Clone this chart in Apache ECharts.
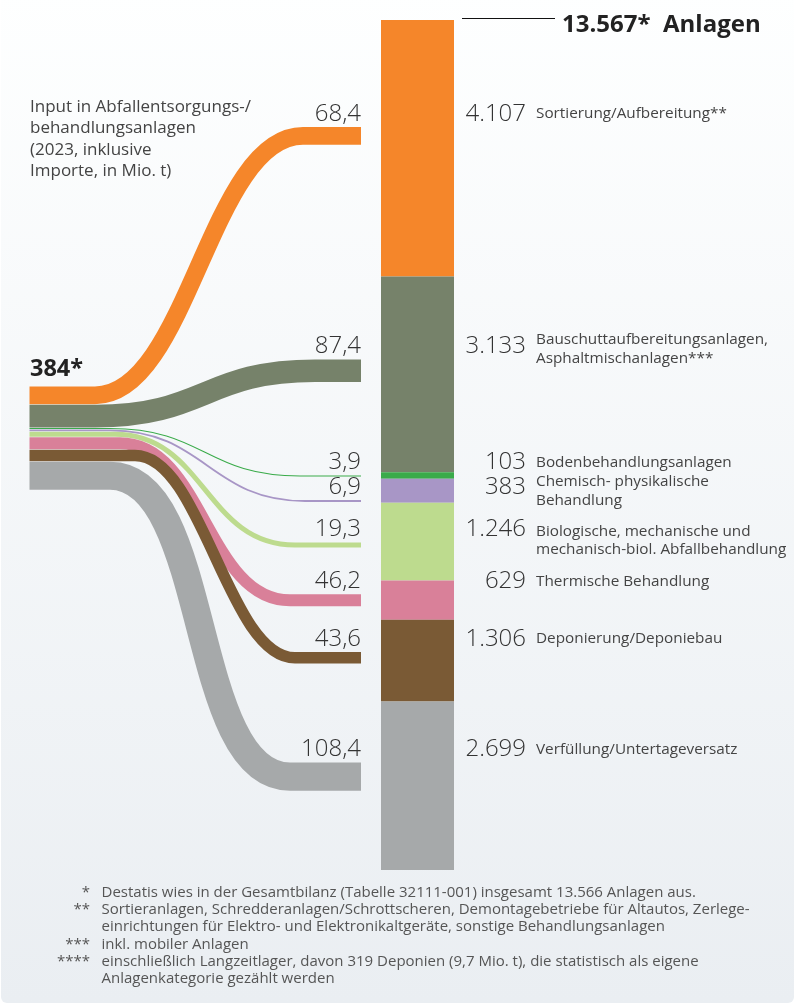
<!DOCTYPE html>
<html>
<head>
<meta charset="utf-8">
<script src="https://cdn.jsdelivr.net/npm/echarts@6/dist/echarts.min.js"></script>
<style>
  html, body { margin: 0; padding: 0; background: #fff; }
  #main { width: 795px; height: 1005px; }
</style>
</head>
<body>
<div id="main"></div>
<script>
// Daten
var categories = [
  "Sortierung/Aufbereitung**",
  "Bauschuttaufbereitungsanlagen,\nAsphaltmischanlagen***",
  "Bodenbehandlungsanlagen",
  "Chemisch- physikalische\nBehandlung",
  "Biologische, mechanische und\nmechanisch-biol. Abfallbehandlung",
  "Thermische Behandlung",
  "Deponierung/Deponiebau",
  "Verfüllung/Untertageversatz"
];
var inputMioT = [68.4, 87.4, 3.9, 6.9, 19.3, 46.2, 43.6, 108.4];
var inputLabels = ["68,4", "87,4", "3,9", "6,9", "19,3", "46,2", "43,6", "108,4"];
var plantCounts = [4107, 3133, 103, 383, 1246, 629, 1306, 2699];
var plantLabels = ["4.107", "3.133", "103", "383", "1.246", "629", "1.306", "2.699"];
var totalInputLabel = "384*";
var totalPlantsLabel = "13.567*";

// Layout / Stil
var colors = ["#f5862a", "#76826a", "#3aab4a", "#a896c6", "#bddb8e", "#d98099", "#7a5a35", "#a6a9aa"];
var TON_PX = 0.26;          // px je Mio. t
var GAP = 0.5;
var LEFT_X = 29.5, LEFT_TOP = 386.5, FLOW_END_X = 361;
var BAR_X0 = 381, BAR_X1 = 454, NUM_X = 526, CAT_X = 536;
// Kurvenform je Strom: [Start Kurve, Ende Kurve, Kontrollabstand]
var curve = [[95, 303, 93], [95, 315, 110], [110, 300, 95], [110, 305, 95],
             [115, 295, 90], [120, 290, 83], [135, 295, 67], [110, 290, 102]];
var endShift = [-12.4, -3.7, 0.5, 10.3, 3.4, 0.2, -2.8, -9];
var catShift = [0, 3, 0, 4, 11, 0, 0, 0];
var FONT = "Open Sans";

var totalPlants = plantCounts.reduce(function(a, b) { return a + b; }, 0);
var plantCum = [], leftCum = [];
(function() {
  var a = 0, b = 0;
  for (var i = 0; i < plantCounts.length; i++) {
    plantCum.push(a); a += plantCounts[i];
    leftCum.push(b); b += inputMioT[i];
  }
})();

var myChart = echarts.init(document.getElementById("main"));

function flowEnd(i, api) {
  var t = inputMioT[i] * TON_PX;
  var yc = api.coord([0, plantCum[i] + plantCounts[i] / 2])[1] + endShift[i];
  return { y: yc, top: yc - Math.max(t, 1) / 2, t: t };
}

function renderFlow(params, api) {
  var i = params.dataIndex;
  var t = inputMioT[i] * TON_PX;
  var yL = LEFT_TOP + leftCum[i] * TON_PX + i * GAP + t / 2;
  var end = flowEnd(i, api);
  var yR = end.y;
  var x0 = api.coord([LEFT_X, 0])[0];
  var xa = api.coord([curve[i][0], 0])[0];
  var xb = api.coord([curve[i][1], 0])[0];
  var k = curve[i][2];
  var x1 = api.coord([FLOW_END_X, 0])[0];
  var d = "M" + x0 + " " + yL + " L" + xa + " " + yL +
          " C" + (xa + k) + " " + yL + " " + (xb - k) + " " + yR + " " + xb + " " + yR +
          " L" + x1 + " " + yR;
  return {
    type: "group",
    children: [
      {
        type: "path",
        shape: { pathData: d },
        style: { fill: null, stroke: colors[i], lineWidth: Math.max(t, 1), lineCap: "butt" }
      },
      {
        type: "text",
        x: x1, y: end.top - 13,
        style: {
          text: inputLabels[i], align: "right", verticalAlign: "middle",
          fontFamily: FONT, fontSize: 24, fontWeight: 300, fill: "#333"
        }
      }
    ]
  };
}

function renderBar(params, api) {
  var i = params.dataIndex;
  var p0 = api.coord([BAR_X0, plantCum[i]]);
  var p1 = api.coord([BAR_X1, plantCum[i] + plantCounts[i]]);
  var ly = flowEnd(i, api).top - 13;
  return {
    type: "group",
    children: [
      {
        type: "rect",
        shape: { x: p0[0], y: p0[1], width: p1[0] - p0[0], height: p1[1] - p0[1] },
        style: { fill: colors[i] }
      },
      {
        type: "text",
        x: NUM_X, y: ly,
        style: {
          text: plantLabels[i], align: "right", verticalAlign: "middle",
          fontFamily: FONT, fontSize: 24, fontWeight: 300, fill: "#333"
        }
      },
      {
        type: "text",
        x: CAT_X, y: ly + catShift[i],
        style: {
          text: categories[i], align: "left", verticalAlign: "middle",
          fontFamily: FONT, fontSize: 15.3, lineHeight: 18.5, fill: "#444"
        }
      }
    ]
  };
}

var footnotes = [
  ["*", "Destatis wies in der Gesamtbilanz (Tabelle 32111-001) insgesamt 13.566 Anlagen aus."],
  ["**", "Sortieranlagen, Schredderanlagen/Schrottscheren, Demontagebetriebe für Altautos, Zerlege-"],
  ["", "einrichtungen für Elektro- und Elektronikaltgeräte, sonstige Behandlungsanlagen"],
  ["***", "inkl. mobiler Anlagen"],
  ["****", "einschließlich Langzeitlager, davon 319 Deponien (9,7 Mio. t), die statistisch als eigene"],
  ["", "Anlagenkategorie gezählt werden"]
];
var noteEls = [];
footnotes.forEach(function(f, i) {
  var y = 892.5 + i * 17.3;
  noteEls.push({ type: "text", x: 90, y: y, style: { text: f[0], align: "right", verticalAlign: "middle", fontFamily: FONT, fontSize: 15, fill: "#555" } });
  noteEls.push({ type: "text", x: 101.5, y: y, style: { text: f[1], align: "left", verticalAlign: "middle", fontFamily: FONT, fontSize: 15, fill: "#555" } });
});

var option = {
  backgroundColor: "#ffffff",
  animation: false,
  grid: { left: 0, right: 0, top: 20, bottom: 135 },
  xAxis: { type: "value", min: 0, max: 795, show: false },
  yAxis: { type: "value", min: 0, max: totalPlants, inverse: true, show: false },
  graphic: [
    {
      type: "rect", z: -10,
      shape: { x: 1, y: -10, width: 793, height: 1013, r: 6 },
      style: {
        fill: new echarts.graphic.LinearGradient(0, 0, 0, 1, [
          { offset: 0, color: "#feffff" },
          { offset: 1, color: "#eaeef2" }
        ])
      }
    },
    {
      type: "line",
      shape: { x1: 462, y1: 18.5, x2: 555, y2: 18.5 },
      style: { stroke: "#111", lineWidth: 1 }
    },
    {
      type: "text", x: 562, y: 25.5,
      style: { text: totalPlantsLabel + "  Anlagen", verticalAlign: "middle", fontFamily: FONT, fontSize: 24, fontWeight: "bold", fill: "#222" }
    },
    {
      type: "text", x: 30, y: 369.5,
      style: { text: totalInputLabel, verticalAlign: "middle", fontFamily: FONT, fontSize: 23.5, fontWeight: "bold", fill: "#222" }
    },
    {
      type: "text", x: 30, y: 96,
      style: {
        text: "Input in Abfallentsorgungs-/\nbehandlungsanlagen\n(2023, inklusive\nImporte, in Mio. t)",
        verticalAlign: "top", fontFamily: FONT, fontSize: 17, lineHeight: 21.5, fill: "#444"
      }
    },
    { type: "group", children: noteEls }
  ],
  series: [
    {
      type: "custom",
      name: "Input",
      renderItem: renderFlow,
      data: inputMioT.map(function(v, i) { return [i, v]; })
    },
    {
      type: "custom",
      name: "Anlagen",
      renderItem: renderBar,
      data: plantCounts.map(function(v, i) { return [i, v]; })
    }
  ]
};
myChart.setOption(option);
window.addEventListener("resize", function() {
  myChart.resize();
});
</script>
</body>
</html>
